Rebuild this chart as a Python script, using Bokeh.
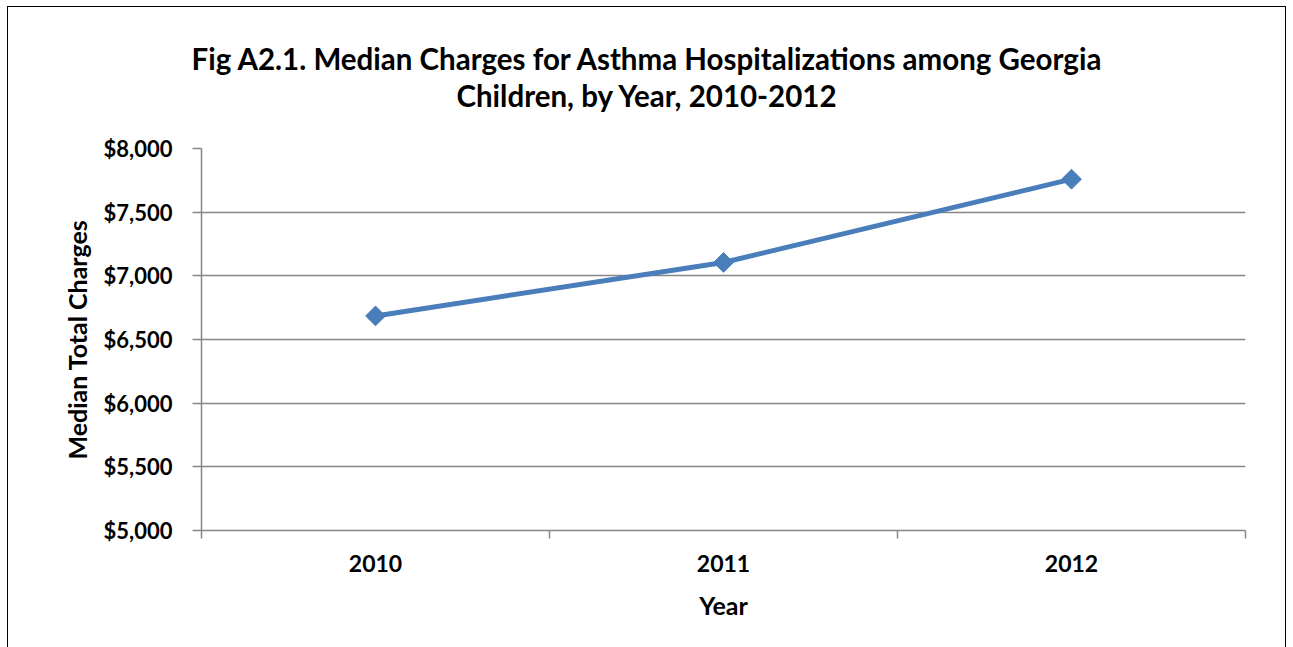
import math

from bokeh.plotting import figure
from bokeh.layouts import column
from bokeh.models import Range1d, FixedTicker, NumeralTickFormatter, ColumnDataSource, Div
from bokeh.embed import file_html
from bokeh.resources import INLINE

# Median total charges (USD) for pediatric asthma hospitalizations
years = ["2010", "2011", "2012"]
median_charges = [6685, 7105, 7759]
y_ticks = [5000, 5500, 6000, 6500, 7000, 7500, 8000]

title_line1 = "Fig A2.1. Median Charges for Asthma Hospitalizations among Georgia"
title_line2 = "Children, by Year, 2010-2012"

FONT = "Lato"
GRID = "#868686"
BLUE = "#4A7EBB"
WIDTH = 1277

# each year sits in the middle of its own slot; slot edges carry the tick marks
x_pos = [i + 0.5 for i in range(len(years))]
edges = list(range(len(years) + 1))

src = ColumnDataSource(dict(x=x_pos, y=median_charges, year=years))

title = Div(
    text=(f'<div style="width:{WIDTH}px; padding-top:33px; line-height:37px; text-align:center; '
          f'font-family:{FONT}; font-weight:bold; font-size:29.5px; color:#000;">'
          f'{title_line1}<br>{title_line2}</div>'),
    width=WIDTH, height=116, margin=0,
)

p = figure(
    width=WIDTH, height=524,
    x_range=Range1d(0, len(years)), y_range=Range1d(y_ticks[0], y_ticks[-1]),
    output_backend="svg", toolbar_location=None,
    min_border_left=193, min_border_right=40, min_border_top=25, min_border_bottom=117,
    background_fill_color="white", border_fill_color="white",
)
p.outline_line_color = None

p.line("x", "y", source=src, line_color=BLUE, line_width=5)
p.scatter("x", "y", source=src, marker="square", angle=math.pi / 4, size=14,
          fill_color=BLUE, line_color=BLUE)

# grid
p.xgrid.grid_line_color = None
p.ygrid.ticker = FixedTicker(ticks=y_ticks)
p.ygrid.grid_line_color = GRID
p.ygrid.grid_line_width = 1.5

# y axis
yax = p.yaxis[0]
yax.ticker = FixedTicker(ticks=y_ticks)
yax.formatter = NumeralTickFormatter(format="$0,0")
yax.axis_line_color = GRID
yax.axis_line_width = 1.5
yax.major_tick_line_color = GRID
yax.major_tick_line_width = 1.5
yax.major_tick_in = 0
yax.major_tick_out = 9
yax.minor_tick_line_color = None
yax.major_label_text_font = FONT
yax.major_label_text_font_style = "bold"
yax.major_label_text_font_size = "22px"
yax.major_label_text_color = "black"
yax.major_label_standoff = 20
yax.axis_label = "Median Total Charges"
yax.axis_label_text_font = FONT
yax.axis_label_text_font_style = "bold"
yax.axis_label_text_font_size = "25px"
yax.axis_label_text_color = "black"
yax.axis_label_standoff = 9

# x axis
xax = p.xaxis[0]
xax.ticker = FixedTicker(ticks=x_pos, minor_ticks=edges)
xax.major_label_overrides = {x: y for x, y in zip(x_pos, years)}
xax.axis_line_color = GRID
xax.axis_line_width = 1.5
xax.major_tick_line_color = None
xax.minor_tick_line_color = GRID
xax.minor_tick_line_width = 1.5
xax.minor_tick_in = 0
xax.minor_tick_out = 8
xax.major_label_text_font = FONT
xax.major_label_text_font_style = "bold"
xax.major_label_text_font_size = "23px"
xax.major_label_text_color = "black"
xax.major_label_standoff = 16
xax.axis_label = "Year"
xax.axis_label_text_font = FONT
xax.axis_label_text_font_style = "bold"
xax.axis_label_text_font_size = "25px"
xax.axis_label_text_color = "black"
xax.axis_label_standoff = 15

layout = column(
    title, p,
    styles={"margin-left": "7px", "margin-top": "6px",
            "border-left": "1px solid #000", "border-top": "1px solid #000",
            "border-right": "1px solid #000"},
)

open("out.html", "w").write(file_html(layout, INLINE))
